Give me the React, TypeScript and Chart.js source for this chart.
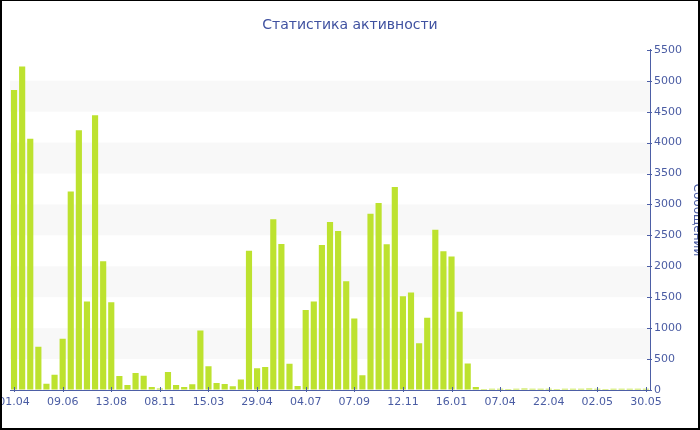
import { useEffect, useRef } from 'react';
import { Chart, registerables } from 'chart.js';

Chart.register(...registerables);

const TITLE = 'Статистика активности';
const Y_TITLE = 'Сообщений';

const dates = [
  '01.04', '12.04', '24.04', '05.05', '17.05', '28.05',
  '09.06', '20.06', '01.07', '12.07', '23.07', '02.08',
  '13.08', '27.08', '11.09', '25.09', '10.10', '24.10',
  '08.11', '29.11', '20.12', '10.01', '31.01', '21.02',
  '15.03', '22.03', '30.03', '06.04', '14.04', '21.04',
  '29.04', '10.05', '21.05', '01.06', '12.06', '23.06',
  '04.07', '15.07', '26.07', '05.08', '16.08', '27.08',
  '07.09', '18.09', '29.09', '10.10', '21.10', '01.11',
  '12.11', '23.11', '04.12', '14.12', '25.12', '05.01',
  '16.01', '30.01', '13.02', '26.02', '12.03', '25.03',
  '07.04', '09.04', '12.04', '14.04', '17.04', '19.04',
  '22.04', '24.04', '25.04', '27.04', '29.04', '30.04',
  '02.05', '07.05', '12.05', '16.05', '21.05', '25.05',
  '30.05',
];

const messages = [
  4850, 5230, 4060, 700, 100, 245,
  830, 3210, 4200, 1430, 4440, 2080,
  1420, 225, 80, 275, 230, 50,
  25, 290, 80, 50, 92, 960,
  385, 115, 95, 60, 170, 2250,
  350, 370, 2760, 2360, 425, 65,
  1295, 1430, 2345, 2715, 2570, 1760,
  1155, 240, 2850, 3025, 2355, 3280,
  1515, 1575, 755, 1170, 2590, 2245,
  2160, 1265, 430, 50, 15, 20,
  22, 18, 20, 24, 19, 21,
  20, 18, 22, 20, 19, 23,
  20, 18, 21, 20, 22, 19,
  20,
];

const Y_MAX = 5500;
const Y_STEP = 250;
const Y_LABEL_STEP = 500;
const X_LABEL_EVERY = 6;

const AXIS_COLOR = '#4d5fa6';
const TEXT_COLOR = '#4a5ca3';
const BAR_COLOR = '#bde22f';
const BAND_COLOR = '#f8f8f8';
const FONT = 'DejaVu Sans';

const decorPlugin = {
  id: 'decor',
  beforeDatasetsDraw(chart: any) {
    const { ctx, chartArea, scales } = chart;
    const y = scales.y;
    ctx.save();
    ctx.fillStyle = BAND_COLOR;
    for (let v = Y_LABEL_STEP; v < Y_MAX; v += 2 * Y_LABEL_STEP) {
      const top = y.getPixelForValue(v + Y_LABEL_STEP);
      const bot = y.getPixelForValue(v);
      ctx.fillRect(chartArea.left, top, chartArea.right - chartArea.left, bot - top);
    }
    ctx.restore();
  },
  afterDraw(chart: any) {
    const { ctx, chartArea, scales } = chart;
    const y = scales.y;
    const x = scales.x;
    ctx.save();
    ctx.strokeStyle = AXIS_COLOR;
    ctx.lineWidth = 1;
    ctx.beginPath();
    y.ticks.forEach((t: any) => {
      const py = Math.round(y.getPixelForValue(t.value)) + 0.5;
      const major = t.value % Y_LABEL_STEP === 0;
      ctx.moveTo(chartArea.right - (major ? 3 : 2), py);
      ctx.lineTo(chartArea.right + (major ? 2 : 0), py);
    });
    for (let i = 0; i < dates.length; i += X_LABEL_EVERY) {
      const px = Math.round(x.getPixelForValue(i)) + 0.5;
      ctx.moveTo(px, chartArea.bottom - 3);
      ctx.lineTo(px, chartArea.bottom + 2);
    }
    ctx.stroke();
    ctx.restore();
  },
};

export default function App() {
  const ref = useRef<HTMLCanvasElement | null>(null);

  useEffect(() => {
    if (!ref.current) return;
    const chart = new Chart(ref.current, {
      type: 'bar',
      data: {
        labels: dates,
        datasets: [
          {
            label: Y_TITLE,
            data: messages,
            backgroundColor: BAR_COLOR,
            borderWidth: 0,
            barPercentage: 0.76,
            categoryPercentage: 1,
          },
        ],
      },
      options: {
        animation: false,
        responsive: false,
        devicePixelRatio: 1,
        layout: { padding: 0 },
        plugins: {
          legend: { display: false },
          tooltip: { enabled: false },
          title: {
            display: true,
            text: TITLE,
            color: '#3f51a0',
            font: { family: FONT, size: 14, weight: 'normal' },
            padding: { top: 17, bottom: 16 },
          },
        },
        scales: {
          x: {
            offset: true,
            grid: { display: true, drawOnChartArea: false, drawTicks: false, offset: false },
            border: { color: AXIS_COLOR, width: 1 },
            ticks: {
              autoSkip: false,
              maxRotation: 0,
              minRotation: 0,
              padding: 6,
              color: TEXT_COLOR,
              font: { family: FONT, size: 11 },
              callback: (_v: any, i: number) => (i % X_LABEL_EVERY === 0 ? dates[i] : ''),
            },
            afterFit: (s: any) => {
              s.height = 40;
              s.paddingLeft = 10;
              s.paddingRight = 0;
            },
          },
          y: {
            position: 'right',
            min: 0,
            max: Y_MAX,
            grid: { display: true, drawOnChartArea: false, drawTicks: false },
            border: { color: AXIS_COLOR, width: 1 },
            ticks: {
              stepSize: Y_STEP,
              padding: 4,
              color: TEXT_COLOR,
              font: { family: FONT, size: 11 },
              callback: (v: any) => (v % Y_LABEL_STEP === 0 ? String(v) : ''),
            },
            title: {
              display: true,
              text: Y_TITLE,
              color: TEXT_COLOR,
              font: { family: FONT, size: 12 },
              padding: { top: -4, bottom: 4 },
            },
            afterFit: (s: any) => {
              s.width = 50;
            },
          },
        },
      },
      plugins: [decorPlugin],
    } as any);
    return () => chart.destroy();
  }, []);

  return (
    <div style={{ position: 'fixed', left: 0, top: 0, width: 700, height: 430, background: '#fff', overflow: 'hidden' }}>
      <canvas ref={ref} width={700} height={430} style={{ display: 'block', width: 700, height: 430 }} />
      <div
        style={{
          position: 'absolute',
          left: 0,
          top: 0,
          width: 700,
          height: 430,
          boxSizing: 'border-box',
          borderTop: '1px solid #000',
          borderLeft: '2px solid #000',
          borderRight: '2px solid #000',
          borderBottom: '2px solid #000',
          pointerEvents: 'none',
        }}
      />
    </div>
  );
}
